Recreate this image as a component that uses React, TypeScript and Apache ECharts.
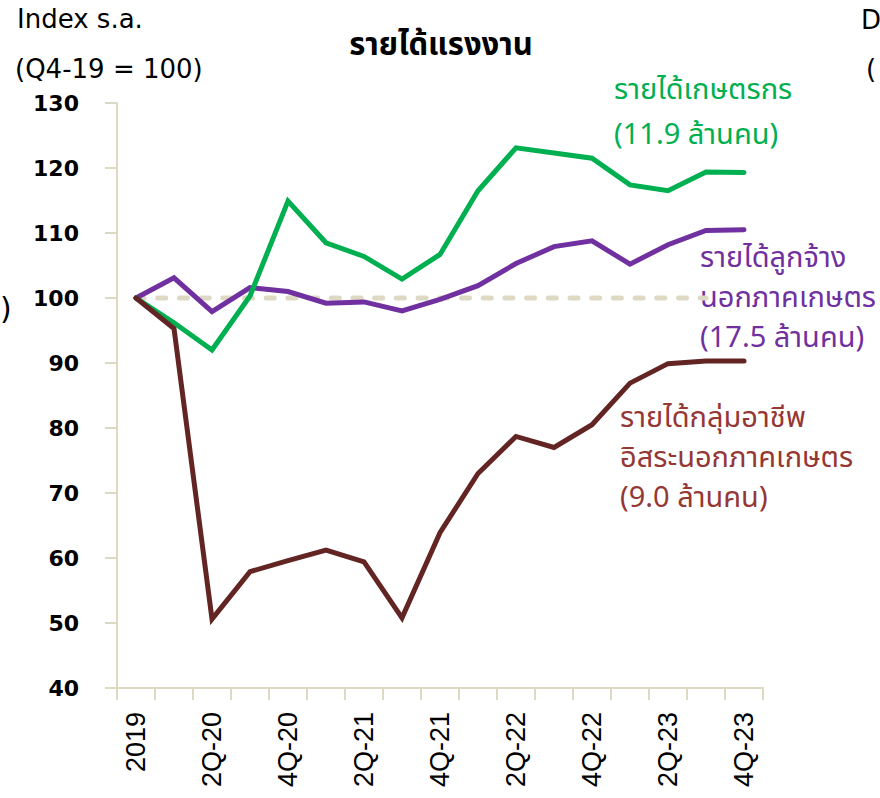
import React, { useEffect, useRef } from "react";
import * as echarts from "echarts";

const categories = [
  "2019", "1Q-20", "2Q-20", "3Q-20", "4Q-20", "1Q-21", "2Q-21", "3Q-21", "4Q-21",
  "1Q-22", "2Q-22", "3Q-22", "4Q-22", "1Q-23", "2Q-23", "3Q-23", "4Q-23",
];
const farmIncome = [100, 96.2, 92.0, 100.3, 114.9, 108.5, 106.4, 102.9, 106.7, 116.5, 123.1, 122.3, 121.5, 117.4, 116.5, 119.4, 119.3];
const employeeIncome = [100, 103.1, 97.9, 101.6, 101.0, 99.2, 99.4, 98.0, 99.8, 101.9, 105.3, 107.9, 108.8, 105.2, 108.2, 110.4, 110.5];
const selfEmployedIncome = [100, 95.3, 50.6, 57.9, 59.6, 61.2, 59.4, 50.8, 63.9, 73.0, 78.7, 77.0, 80.5, 86.9, 89.9, 90.3, 90.3];
const baseline = [100, 100, 100, 100, 100, 100, 100, 100, 100, 100, 100, 100, 100, 100, 100, 100, null];

const yMin = 40;
const yMax = 130;
const yInterval = 10;

const titleText = "รายได้แรงงาน";
const unitLines = ["Index s.a.", "(Q4-19 = 100)"];
const farmLabel = ["รายได้เกษตรกร", "(11.9 ล้านคน)"];
const employeeLabel = ["รายได้ลูกจ้าง", "นอกภาคเกษตร", "(17.5 ล้านคน)"];
const selfEmployedLabel = ["รายได้กลุ่มอาชีพ", "อิสระนอกภาคเกษตร", "(9.0 ล้านคน)"];
const edgeTexts = ["D", "(", ")"];

const GREEN = "#00b050";
const PURPLE = "#7030a0";
const BROWN = "#632523";
const BROWN_TEXT = "#953735";
const AXIS = "#ddd9c3";

const THAI = "'Noto Sans Thai', 'Noto Sans Thai UI', Tahoma, 'DejaVu Sans', sans-serif";
const LATIN = "'DejaVu Sans', Tahoma, sans-serif";

function textLines(lines: string[], x: number, y0: number, step: number, color: string, size: number) {
  return lines.map((t, i) => ({
    type: "text",
    x,
    y: y0 + i * step,
    silent: true,
    style: {
      text: t,
      fill: color,
      font: `${size}px ${THAI}`,
      textAlign: "left",
      textVerticalAlign: "middle",
    },
  }));
}

export default function App() {
  const ref = useRef<HTMLDivElement>(null);
  useEffect(() => {
    if (!ref.current) return;
    const chart = echarts.init(ref.current, undefined, { renderer: "svg" });
    chart.setOption({
      animation: false,
      backgroundColor: "#ffffff",
      grid: { left: 117, top: 103, width: 646, height: 585, containLabel: false },
      xAxis: {
        type: "category",
        data: categories,
        boundaryGap: true,
        axisLine: { show: true, lineStyle: { color: AXIS, width: 2 } },
        axisTick: { show: true, interval: 0, length: 12, lineStyle: { color: AXIS, width: 2 } },
        axisLabel: {
          interval: 1,
          rotate: 90,
          margin: 24,
          color: "#000",
          fontSize: 27,
          fontFamily: "'Liberation Sans', Arial, sans-serif",
        },
        splitLine: { show: false },
      },
      yAxis: {
        type: "value",
        min: yMin,
        max: yMax,
        interval: yInterval,
        axisLine: { show: true, lineStyle: { color: AXIS, width: 2 } },
        axisTick: { show: true, length: 12, lineStyle: { color: AXIS, width: 2 } },
        axisLabel: { margin: 38, color: "#000", fontSize: 22, fontWeight: "bold", fontFamily: LATIN },
        splitLine: { show: false },
      },
      series: [
        {
          type: "line",
          data: baseline,
          symbol: "none",
          silent: true,
          lineStyle: { color: AXIS, width: 5, type: [8, 13.7], cap: "round" },
          z: 1,
        },
        {
          type: "line",
          data: employeeIncome,
          symbol: "none",
          lineStyle: { color: PURPLE, width: 5, join: "miter", cap: "round" },
          z: 2,
        },
        {
          type: "line",
          data: farmIncome,
          symbol: "none",
          lineStyle: { color: GREEN, width: 5, join: "miter", cap: "round" },
          z: 3,
        },
        {
          type: "line",
          data: selfEmployedIncome,
          symbol: "none",
          lineStyle: { color: BROWN, width: 5, join: "miter", cap: "round" },
          z: 4,
        },
      ],
      graphic: [
        {
          type: "text",
          x: 441,
          y: 45,
          style: {
            text: titleText,
            fill: "#000",
            font: `bold 31px ${THAI}`,
            textAlign: "center",
            textVerticalAlign: "middle",
          },
        },
        {
          type: "text",
          x: 17,
          y: 19,
          style: { text: unitLines[0], fill: "#000", font: `26px ${LATIN}`, textAlign: "left", textVerticalAlign: "middle" },
        },
        {
          type: "text",
          x: 15,
          y: 69,
          style: { text: unitLines[1], fill: "#000", font: `26px ${LATIN}`, textAlign: "left", textVerticalAlign: "middle" },
        },
        {
          type: "text",
          x: 861,
          y: 20,
          style: { text: edgeTexts[0], fill: "#000", font: `26px ${LATIN}`, textAlign: "left", textVerticalAlign: "middle" },
        },
        {
          type: "text",
          x: 866,
          y: 69,
          style: { text: edgeTexts[1], fill: "#000", font: `26px ${LATIN}`, textAlign: "left", textVerticalAlign: "middle" },
        },
        {
          type: "text",
          x: 0,
          y: 308,
          style: { text: edgeTexts[2], fill: "#000", font: `30px ${LATIN}`, textAlign: "left", textVerticalAlign: "middle" },
        },
        ...textLines(farmLabel, 614, 90, 45, GREEN, 29),
        ...textLines(employeeLabel, 700, 258, 40, PURPLE, 29),
        ...textLines(selfEmployedLabel, 620, 418, 40, BROWN_TEXT, 29),
      ],
    });
    return () => chart.dispose();
  }, []);
  return <div ref={ref} style={{ position: "absolute", left: 0, top: 0, width: 880, height: 798 }} />;
}
